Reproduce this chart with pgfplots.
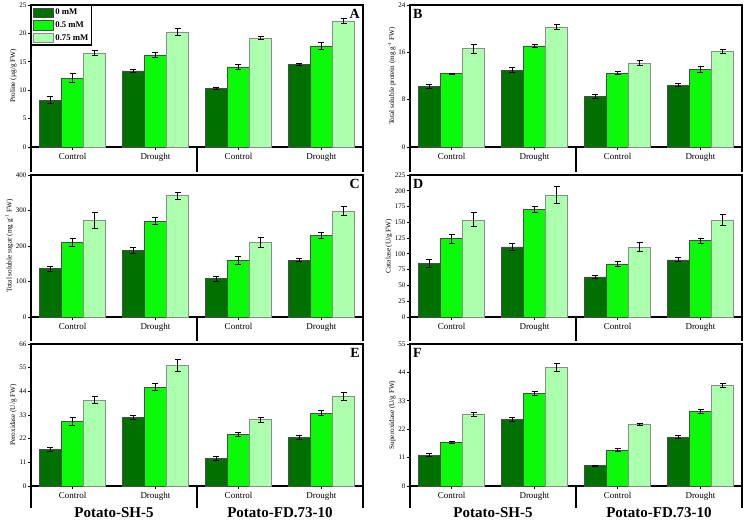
\documentclass[border=0pt]{standalone}
\usepackage{fontspec}
\setmainfont{Liberation Serif}
\usepackage{pgfplots}
\pgfplotsset{compat=1.18}

\definecolor{gDark}{RGB}{0,112,0}
\definecolor{gMid}{RGB}{10,250,10}
\definecolor{gLight}{RGB}{172,255,172}

\pgfplotsset{
  panel/.style={
    scale only axis, width=332pt, height=142pt,
    ybar=0pt, bar width=0.266,
    xmin=-0.5, xmax=3.5, ymin=0,
    xtick={0,1,2,3}, xticklabels={Control,Drought,Control,Drought},
    xtick pos=bottom, ytick pos=left, tick align=outside,
    major tick length=3pt,
    major tick style={black, line width=0.8pt},
    axis line style={line width=1.6pt},
    clip=false,
    /pgf/number format/assume math mode=true,
    yticklabel style={font=\fontsize{7}{8}\selectfont, inner sep=1.5pt},
    xticklabel style={font=\fontsize{9}{10}\selectfont},
    ylabel style={font=\fontsize{7.2}{9}\selectfont, inner sep=1pt},
    legend image code/.code={\draw[##1, line width=0.5pt] (0pt,-4.6pt) rectangle (20pt,4.6pt);},
  },
  eb/.style={error bars/.cd, y dir=both, y explicit,
    error bar style={black, line width=1pt},
    error mark options={rotate=90, black, mark size=3pt, line width=1pt}},
  s0/.style={fill=gDark, draw=black!70, line width=0.6pt},
  s1/.style={fill=gMid, draw=black!70, line width=0.6pt},
  s2/.style={fill=gLight, draw=black!45, line width=0.6pt},
}
\newcommand{\band}[1]{%
  \draw[line width=1.6pt] (rel axis cs:0,0) -- ++(0pt,-#1);
  \draw[line width=1.6pt] (rel axis cs:0.5,0) -- ++(0pt,-#1);
  \draw[line width=1.6pt] (rel axis cs:1,0) -- ++(0pt,-#1);}
\newcommand{\lettR}[1]{\node[anchor=north east, inner sep=0pt, font=\bfseries\fontsize{14}{14}\selectfont] at ([xshift=-3pt,yshift=-4pt]rel axis cs:1,1) {#1};}
\newcommand{\lettL}[1]{\node[anchor=north west, inner sep=0pt, font=\bfseries\fontsize{14}{14}\selectfont] at ([xshift=3pt,yshift=-4pt]rel axis cs:0,1) {#1};}

\begin{document}
\begin{tikzpicture}
\useasboundingbox (0,0) rectangle (745pt,-522pt);

% A
\begin{axis}[panel, at={(31pt,-5pt)}, anchor=north west,
  ymax=25, ytick={0,5,...,25}, ylabel={Proline (µg/g FW)},
  legend style={at={(rel axis cs:0,1)}, anchor=north west, draw=black,
    line width=1.4pt, inner sep=1.2pt, row sep=1.5pt,
    font=\bfseries\fontsize{8.7}{9}\selectfont},
  legend cell align=left]
\addplot[s0, eb] coordinates {(0,8.25) +- (0,0.6) (1,13.4) +- (0,0.2) (2,10.25) +- (0,0.15) (3,14.5) +- (0,0.2)};
\addplot[s1, eb] coordinates {(0,12.1) +- (0,0.8) (1,16.2) +- (0,0.4) (2,14.1) +- (0,0.4) (3,17.8) +- (0,0.6)};
\addplot[s2, eb] coordinates {(0,16.55) +- (0,0.4) (1,20.25) +- (0,0.6) (2,19.15) +- (0,0.25) (3,22.2) +- (0,0.4)};
\legend{0 mM, 0.5 mM, 0.75 mM}
\band{25pt}
\lettR{A}
\end{axis}

% B
\begin{axis}[panel, at={(410pt,-5pt)}, anchor=north west,
  ymax=24, ytick={0,8,16,24}, ylabel={Total soluble protein (mg g\textsuperscript{-1} FW)}]
\addplot[s0, eb] coordinates {(0,10.2) +- (0,0.3) (1,13.0) +- (0,0.4) (2,8.55) +- (0,0.3) (3,10.45) +- (0,0.2)};
\addplot[s1, eb] coordinates {(0,12.4) +- (0,0.1) (1,17.1) +- (0,0.3) (2,12.5) +- (0,0.2) (3,13.1) +- (0,0.5)};
\addplot[s2, eb] coordinates {(0,16.6) +- (0,0.8) (1,20.3) +- (0,0.4) (2,14.2) +- (0,0.4) (3,16.1) +- (0,0.3)};
\band{25pt}
\lettL{B}
\end{axis}

% C
\begin{axis}[panel, at={(31pt,-175pt)}, anchor=north west,
  ymax=400, ytick={0,100,...,400}, ylabel={Total soluble sugar (mg g\textsuperscript{-1} FW)}]
\addplot[s0, eb] coordinates {(0,136) +- (0,7) (1,187) +- (0,8) (2,108) +- (0,7) (3,160) +- (0,4)};
\addplot[s1, eb] coordinates {(0,210) +- (0,11) (1,270) +- (0,10) (2,159) +- (0,11) (3,230) +- (0,9)};
\addplot[s2, eb] coordinates {(0,271) +- (0,23) (1,342) +- (0,10) (2,210) +- (0,13) (3,298) +- (0,12)};
\band{24pt}
\lettR{C}
\end{axis}

% D
\begin{axis}[panel, at={(410pt,-175pt)}, anchor=north west,
  ymax=225, ytick={0,25,...,225}, ylabel={Catalase (U/g FW)}]
\addplot[s0, eb] coordinates {(0,85) +- (0,6) (1,111) +- (0,6) (2,63.5) +- (0,2) (3,90.5) +- (0,3)};
\addplot[s1, eb] coordinates {(0,124) +- (0,7) (1,170) +- (0,5) (2,84) +- (0,4) (3,121) +- (0,4)};
\addplot[s2, eb] coordinates {(0,154) +- (0,11) (1,193) +- (0,13) (2,110.6) +- (0,7) (3,154) +- (0,9)};
\band{24pt}
\lettL{D}
\end{axis}

% E
\begin{axis}[panel, at={(31pt,-344pt)}, anchor=north west,
  ymax=66, ytick={0,11,...,66}, ylabel={Peroxidase (U/g FW)}]
\addplot[s0, eb] coordinates {(0,16.9) +- (0,0.9) (1,31.9) +- (0,0.9) (2,12.9) +- (0,1.0) (3,22.6) +- (0,1.0)};
\addplot[s1, eb] coordinates {(0,29.9) +- (0,1.8) (1,45.9) +- (0,1.7) (2,23.9) +- (0,0.9) (3,33.8) +- (0,1.2)};
\addplot[s2, eb] coordinates {(0,39.8) +- (0,1.6) (1,55.9) +- (0,2.7) (2,30.8) +- (0,1.1) (3,41.7) +- (0,1.8)};
\band{22pt}
\lettR{E}
\node[font=\bfseries\fontsize{15}{15}\selectfont] at ([yshift=-27pt]axis cs:0.5,0) {Potato-SH-5};
\node[font=\bfseries\fontsize{15}{15}\selectfont] at ([yshift=-27pt]axis cs:2.5,0) {Potato-FD.73-10};
\end{axis}

% F
\begin{axis}[panel, at={(410pt,-344pt)}, anchor=north west,
  ymax=55, ytick={0,11,...,55}, ylabel={Superoxidase (U/g FW)}]
\addplot[s0, eb] coordinates {(0,11.9) +- (0,0.6) (1,25.8) +- (0,0.8) (2,7.9) +- (0,0.2) (3,18.9) +- (0,0.5)};
\addplot[s1, eb] coordinates {(0,16.8) +- (0,0.5) (1,35.9) +- (0,0.8) (2,13.8) +- (0,0.6) (3,28.9) +- (0,0.8)};
\addplot[s2, eb] coordinates {(0,27.8) +- (0,0.8) (1,46.0) +- (0,1.5) (2,23.9) +- (0,0.3) (3,39.0) +- (0,0.7)};
\band{22pt}
\lettL{F}
\node[font=\bfseries\fontsize{15}{15}\selectfont] at ([yshift=-27pt]axis cs:0.5,0) {Potato-SH-5};
\node[font=\bfseries\fontsize{15}{15}\selectfont] at ([yshift=-27pt]axis cs:2.5,0) {Potato-FD.73-10};
\end{axis}
\end{tikzpicture}
\end{document}
